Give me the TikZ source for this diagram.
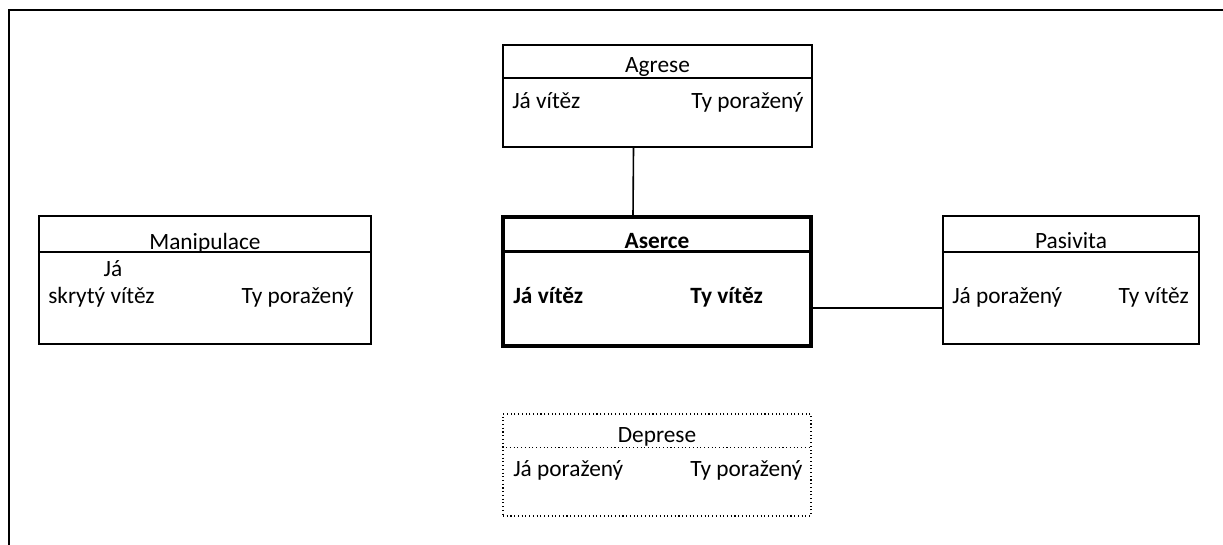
\documentclass[tikz,border=0pt]{standalone}
\usepackage{fontspec}
\setmainfont{Carlito}
\usetikzlibrary{positioning,calc}
\definecolor{ink}{HTML}{000000}
\tikzset{
  every node/.style={font=\fontsize{17.5}{21}\selectfont,text=ink,inner sep=0pt},
  frame/.style={draw=ink,line width=1.6pt},
  box/.style={draw=ink,line width=1.6pt,fill=white},
  mainbox/.style={box,line width=2.4pt},
  dotbox/.style={box,line width=0.8pt,dotted},
  divider/.style={draw=ink,line width=1.6pt},
  dotdivider/.style={draw=ink,line width=0.8pt,dotted},
  link/.style={draw=ink,line width=1.2pt},
  title/.style={anchor=base},
  lefttext/.style={anchor=base west},
  righttext/.style={anchor=base east},
}

\begin{document}
\begin{tikzpicture}[x=0.75pt,y=-0.75pt]
\useasboundingbox (0,0) rectangle (1223,545);

% outer frame
\draw[frame] (9,545) -- (9,10) -- (1223,10);

% boxes
\node[box,minimum width=309*0.75pt,minimum height=102*0.75pt] (agrese) at (657.5,96) {};
\node[mainbox,minimum width=308*0.75pt,minimum height=129*0.75pt] (aserce) at (657,281.5) {};
\node[dotbox,minimum width=308*0.75pt,minimum height=102*0.75pt] (deprese) at (657,465) {};
\node[box,minimum width=332*0.75pt,minimum height=128*0.75pt] (manip) at (205,280) {};
\node[box,minimum width=256*0.75pt,minimum height=128*0.75pt] (pasivita) at (1071,280) {};

% title dividers
\draw[divider] ($(agrese.north west)+(0,34)$) -- ($(agrese.north east)+(0,34)$);
\draw[divider,line width=2.4pt] ($(aserce.north west)+(0,36)$) -- ($(aserce.north east)+(0,36)$);
\draw[dotdivider] ($(deprese.north west)+(0,34)$) -- ($(deprese.north east)+(0,34)$);
\draw[divider] ($(manip.north west)+(0,37)$) -- ($(manip.north east)+(0,37)$);
\draw[divider] ($(pasivita.north west)+(0,37)$) -- ($(pasivita.north east)+(0,37)$);

% connectors
\draw[link] ([xshift=-18pt]agrese.south) -- ([xshift=-18pt]aserce.north);
\draw[link] ([yshift=-20pt]aserce.east) -- ([yshift=-20pt]aserce.east -| pasivita.west);

% Agrese
\node[title] (agreseT) at (657.5,73) {Agrese};
\node[lefttext] (agreseA) at (512,109) {Já vítěz};
\node[lefttext] (agreseB) at (691,109) {Ty poražený};

% Aserce
\node[title] (aserceT) at (657,248) {\bfseries Aserce};
\node[lefttext] (aserceA) at (513,303) {\bfseries Já vítěz};
\node[lefttext] (aserceB) at (690,303) {\bfseries Ty vítěz};

% Deprese
\node[title] (depreseT) at (657,442) {Deprese};
\node[lefttext] (depreseA) at (513,476) {Já poražený};
\node[lefttext] (depreseB) at (690,476) {Ty poražený};

% Manipulace
\node[title] (manipT) at (205,249) {Manipulace};
\node[title] (manipA) at (113,276) {Já};
\node[lefttext] (manipB) at (48,303) {skrytý vítěz};
\node[righttext] (manipC) at (354,303) {Ty poražený};

% Pasivita
\node[title] (pasivitaT) at (1071,248) {Pasivita};
\node[lefttext] (pasivitaA) at (952,303) {Já poražený};
\node[righttext] (pasivitaB) at (1189,303) {Ty vítěz};

\end{tikzpicture}
\end{document}
